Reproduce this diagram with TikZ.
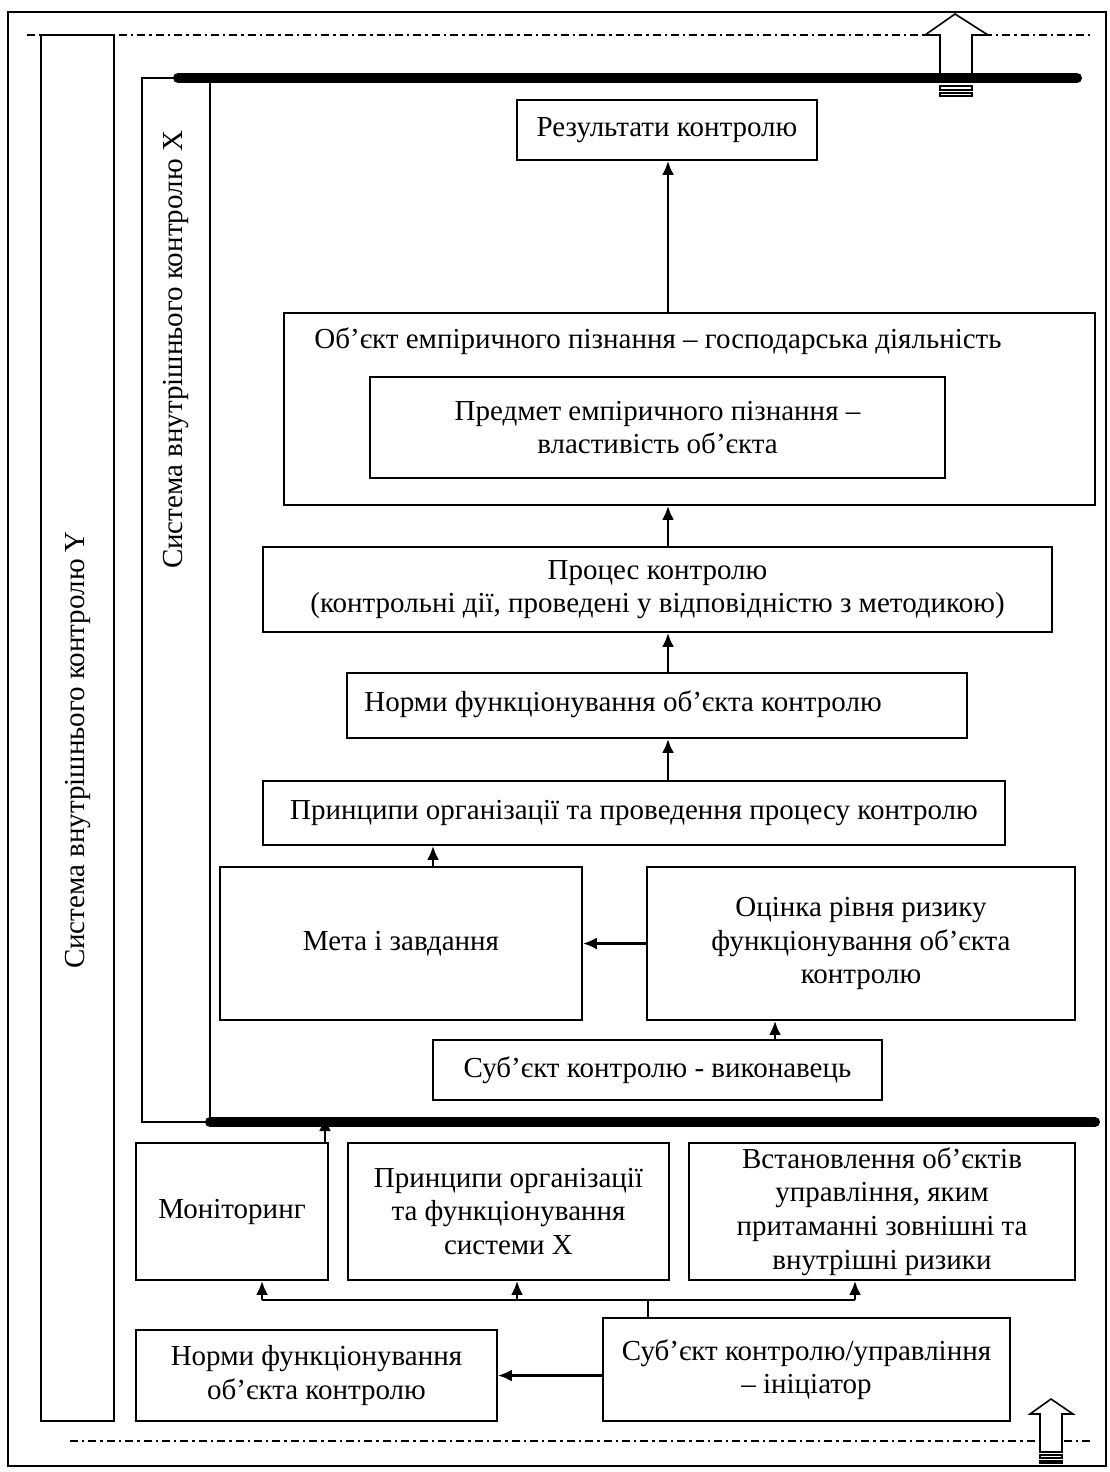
\documentclass[tikz,border=0pt]{standalone}
\usepackage{fontspec}
\setmainfont{Liberation Serif}
\usetikzlibrary{arrows.meta}

\tikzset{
  blok/.style={draw, line width=0.8pt, inner sep=0pt, align=center},
  pil/.style={line width=1.4pt, -{Latex[length=7pt,width=6pt]}},
  rail/.style={line width=5pt, line cap=round},
  axis/.style={line width=1.4pt, dash pattern=on 4pt off 2pt on 1.2pt off 2pt},
}

\begin{document}
\begin{tikzpicture}[x=0.5pt,y=-0.5pt,font=\fontsize{14.5}{16.8}\selectfont]
  \useasboundingbox (0,0) rectangle (1109,1472);
  \draw[line width=0.8pt] (8,12) rectangle (1106,1466);
  % dash-dot borders of the two systems
  \draw[axis] (27,35) -- (1090,35);
  \draw[axis] (70,1441) -- (1093,1441);
  % system Y and system X
  \node[blok, minimum width=36.5pt, minimum height=693pt] (sysY) at (77.5,728) {};
  \node[rotate=90] (sysYt) at (78,750) {Система внутрішнього контролю Y};
  \node[blok, minimum width=34pt, minimum height=522pt] (sysX) at (176,600) {};
  \node[rotate=90] (sysXt) at (176,350) {Система внутрішнього контролю Х};
  % upper block arrow
  \draw[line width=0.8pt, fill=white] (940,78) -- (940,35) -- (925,35) -- (955,14)
    -- (988,35) -- (972,35) -- (972,78);
  \draw[line width=0.8pt] (940,86) rectangle (972,90);
  \draw[line width=0.8pt] (940,93) rectangle (972,96);
  % lower block arrow
  \draw[line width=0.8pt, fill=white] (1040,1452) -- (1040,1414) -- (1030,1414) -- (1051,1399)
    -- (1073,1414) -- (1062,1414) -- (1062,1452) -- cycle;
  \draw[line width=0.8pt] (1040,1455) rectangle (1062,1458);
  \draw[line width=0.8pt] (1040,1461) rectangle (1062,1463);
  % thick rails
  \coordinate (railA) at (178,78);
  \coordinate (railB) at (1077,78);
  \coordinate (railC) at (210,1122);
  \coordinate (railD) at (1095,1122);
  \draw[rail] (railA) -- (railB);
  \draw[rail] (railC) -- (railD);
  % boxes of system X
  \node[blok, minimum width=150pt, minimum height=30pt] (res) at (667,130) {Результати контролю};
  \node[blok, minimum width=405.5pt, minimum height=96pt] (obj) at (689.5,409) {};
  \node (objt) at (658,341) {Об’єкт емпіричного пізнання – господарська діяльність};
  \node[blok, minimum width=287.5pt, minimum height=50.5pt] (subj) at (657.5,427.5)
    {Предмет емпіричного пізнання –\\властивість об’єкта};
  \node[blok, minimum width=394.5pt, minimum height=42.5pt] (proc) at (657.5,589.5)
    {Процес контролю\\(контрольні дії, проведені у відповідністю з методикою)};
  \node[blok, minimum width=310pt, minimum height=32.5pt] (norms) at (657,705.5) {};
  \node (normst) at (623,704) {Норми функціонування об’єкта контролю};
  \node[blok, minimum width=371pt, minimum height=32pt] (princ) at (634,813)
    {Принципи організації та проведення процесу контролю};
  \node[blok, minimum width=181pt, minimum height=76.5pt] (meta) at (401,943.5) {Мета і завдання};
  \node[blok, minimum width=214pt, minimum height=76.5pt] (risk) at (861,943.5)
    {Оцінка рівня ризику\\функціонування об’єкта\\контролю};
  \node[blok, minimum width=224.5pt, minimum height=30pt] (exec) at (657.5,1070)
    {Суб’єкт контролю - виконавець};
  % boxes below system X
  \node[blok, minimum width=96pt, minimum height=68.5pt] (mon) at (232,1211.5) {Моніторинг};
  \node[blok, minimum width=160.5pt, minimum height=68.5pt] (princX) at (508.5,1211.5)
    {Принципи організації\\та функціонування\\системи Х};
  \node[blok, minimum width=193pt, minimum height=68.5pt] (objs) at (882,1211.5)
    {Встановлення об’єктів\\управління, яким\\притаманні зовнішні та\\внутрішні ризики};
  \node[blok, minimum width=203.5pt, minimum height=51.5pt] (init) at (806.5,1369.5)
    {Суб’єкт контролю/управління\\– ініціатор};
  \node[blok, minimum width=180.5pt, minimum height=45.5pt] (normsB) at (316.5,1375.5)
    {Норми функціонування\\об’єкта контролю};
  % connectors
  \coordinate (mid) at (668,0);
  \draw[pil] (obj.north -| mid) -- (res.south -| mid);
  \draw[pil] (proc.north -| mid) -- (obj.south -| mid);
  \draw[pil] (norms.north -| mid) -- (proc.south -| mid);
  \draw[pil] (princ.north -| mid) -- (norms.south -| mid);
  \draw[pil] (meta.north -| 433,0) -- (princ.south -| 433,0);
  \draw[pil] (risk.west) -- (meta.east);
  \draw[pil] (exec.north -| 775,0) -- (risk.south -| 775,0);
  \coordinate (monUp) at (325,1117);
  \draw[pil] (mon.north -| monUp) -- (monUp);
  \coordinate (hub) at (648,1300);
  \draw[line width=0.8pt] (init.north -| hub) -- (hub);
  \draw[line width=0.8pt] (262,1300) -- (855,1300);
  \draw[pil] (262,1300) -- (mon.south -| 262,0);
  \draw[pil] (517,1300) -- (princX.south -| 517,0);
  \draw[pil] (855,1300) -- (objs.south -| 855,0);
  \draw[pil] (init.west |- normsB.east) -- (normsB.east);
\end{tikzpicture}
\end{document}
